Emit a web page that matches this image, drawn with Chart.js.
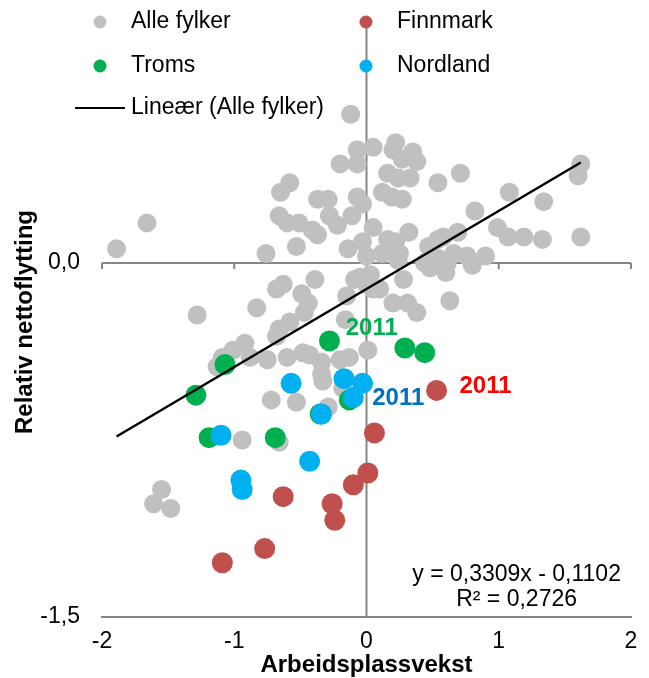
<!DOCTYPE html>
<html>
<head>
<meta charset="utf-8">
<script src="https://cdn.jsdelivr.net/npm/chart.js@4.4.0/dist/chart.umd.min.js"></script>
<style>
  body { margin: 0; background: #fff; }
  #wrap { width: 649px; height: 678px; }
</style>
</head>
<body>
<div id="wrap"><canvas id="myChart" width="649" height="678"></canvas></div>
<script>
// verdier lest av bildet: [arbeidsplassvekst, relativ nettoflytting]
const alleFylker = [
  [-1.89,0.06],[-1.66,0.17],[-1.28,-0.22],[-1.55,-0.96],[-1.61,-1.02],[-1.48,-1.04],
  [-0.12,0.63],[-0.07,0.48],[0.05,0.49],[-0.20,0.42],[-0.07,0.42],
  [-0.65,0.30],[-0.58,0.34],[-0.37,0.27],[-0.29,0.27],[-0.07,0.28],
  [-0.66,0.20],[-0.60,0.17],[-0.51,0.17],[-0.41,0.14],[-0.37,0.12],[-0.28,0.20],[-0.22,0.16],[-0.11,0.20],[-0.03,0.25],
  [-0.53,0.07],[-0.76,0.04],[-0.14,0.06],[-0.03,0.09],[0.00,0.03],
  [0.22,0.51],[0.20,0.48],[0.35,0.47],[0.27,0.44],[0.38,0.43],[0.16,0.38],[0.24,0.36],[0.33,0.36],[0.54,0.34],[0.71,0.38],
  [0.12,0.30],[0.19,0.28],[0.27,0.27],
  [0.05,0.15],[0.16,0.10],[0.22,0.09],[0.32,0.13],[0.12,0.04],[0.25,0.04],
  [0.47,0.07],[0.54,0.10],[0.58,0.11],[0.69,0.13],[0.82,0.22],[0.99,0.15],
  [0.54,0.02],[0.66,0.04],[0.76,0.03],[0.90,0.03],
  [1.62,0.42],[1.60,0.37],[1.08,0.30],[1.34,0.26],[1.07,0.11],[1.19,0.11],[1.33,0.10],[1.62,0.11],
  [0.80,-0.01],[0.24,0.01],[0.44,0.00],[0.48,-0.02],[0.61,0.00],[0.60,-0.04],
  [-0.05,-0.06],[-0.09,-0.07],[0.05,-0.11],[-0.15,-0.14],[0.28,-0.07],[0.20,-0.17],[0.31,-0.17],[0.38,-0.21],[0.63,-0.16],
  [-0.83,-0.19],[-0.68,-0.11],[-0.63,-0.09],[-0.39,-0.07],[-0.49,-0.13],[-0.44,-0.17],
  [-0.58,-0.25],[-0.66,-0.28],[-0.68,-0.31],[-0.92,-0.34],[-1.01,-0.37],[-1.09,-0.40],[-1.13,-0.44],
  [-0.88,-0.40],[-0.75,-0.41],[-0.60,-0.40],[-0.48,-0.38],[-0.43,-0.39],[-0.34,-0.42],[-0.34,-0.47],[-0.33,-0.50],
  [-0.20,-0.41],[-0.13,-0.40],[0.01,-0.37],[-0.18,-0.53],
  [-0.72,-0.58],[-0.53,-0.59],[-0.29,-0.61],[-0.94,-0.75],[-0.66,-0.76],
  [0.00,-0.09],[0.03,-0.05],[0.10,-0.11],[-0.16,-0.24],[-0.47,-0.21]
];
const finnmark = [
  [0.53,-0.54],[0.06,-0.72],[0.01,-0.89],[-0.10,-0.94],[-0.63,-0.99],
  [-0.26,-1.02],[-0.24,-1.09],[-0.77,-1.21],[-1.09,-1.27]
];
const troms = [
  [-0.28,-0.33],[-1.07,-0.43],[-1.29,-0.56],[-1.19,-0.74],[-0.69,-0.74],
  [-0.35,-0.64],[-0.13,-0.58],[0.29,-0.36],[0.44,-0.38]
];
const nordland = [
  [-0.57,-0.51],[-0.17,-0.49],[-0.03,-0.51],[-0.10,-0.57],[-0.34,-0.64],
  [-1.10,-0.73],[-0.43,-0.84],[-0.95,-0.92],[-0.94,-0.96]
];
const trend = [[-1.89,-0.735],[1.62,0.426]];
const xTicks = [-2, -1, 0, 1, 2];
const yTicks = [-1.5, 0];

const FONT = 'Liberation Sans, Arial, sans-serif';
const AXIS = '#868686';
Chart.defaults.font.family = FONT;
Chart.defaults.color = '#000';

function pts(arr) {
  return arr.map(p => ({x: p[0], y: p[1]}));
}

// "2011"-etiketter og trendlikning
const notes = [
  {text: '2011', x: 0.04, y: -0.275, color: '#00b050', bold: true},
  {text: '2011', x: 0.24, y: -0.572, color: '#0070c0', bold: true},
  {text: '2011', x: 0.90, y: -0.521, color: '#ff0000', bold: true},
  {text: 'y = 0,3309x - 0,1102', x: 1.135, y: -1.322, color: '#000', bold: false},
  {text: 'R² = 0,2726', x: 1.135, y: -1.428, color: '#000', bold: false}
];

const axesPlugin = {
  id: 'crossAxes',
  beforeDatasetsDraw(chart) {
    const {ctx, scales: {x, y}} = chart;
    const x0 = x.getPixelForValue(0);
    const y0 = y.getPixelForValue(0);
    ctx.save();
    ctx.strokeStyle = AXIS;
    ctx.lineWidth = 2;
    ctx.beginPath();
    ctx.moveTo(x0, chart.chartArea.top);
    ctx.lineTo(x0, chart.chartArea.bottom);
    ctx.moveTo(x.left, y0);
    ctx.lineTo(x.right, y0);
    xTicks.forEach(t => {
      const px = x.getPixelForValue(t);
      ctx.moveTo(px, y0);
      ctx.lineTo(px, y0 + 6);
    });
    ctx.stroke();
    ctx.restore();
  },
  afterDraw(chart) {
    const {ctx, scales: {x, y}} = chart;
    ctx.save();
    ctx.textAlign = 'center';
    ctx.textBaseline = 'middle';
    notes.forEach(n => {
      ctx.font = n.bold ? 'bold 24px ' + FONT : '23px ' + FONT;
      ctx.fillStyle = n.color;
      ctx.fillText(n.text, x.getPixelForValue(n.x), y.getPixelForValue(n.y));
    });

    // forklaring
    const ds = chart.data.datasets;
    const items = [
      {ds: ds[0], px: 100, py: 22},
      {ds: ds[1], px: 366, py: 22},
      {ds: ds[2], px: 100, py: 66},
      {ds: ds[3], px: 366, py: 66}
    ];
    ctx.font = '23px ' + FONT;
    ctx.textAlign = 'left';
    items.forEach(it => {
      ctx.fillStyle = it.ds.backgroundColor;
      ctx.beginPath();
      ctx.arc(it.px, it.py, 6.5, 0, Math.PI * 2);
      ctx.fill();
      ctx.fillStyle = '#000';
      ctx.fillText(it.ds.label, it.px + 31, it.py);
    });
    ctx.strokeStyle = '#000';
    ctx.lineWidth = 2;
    ctx.beginPath();
    ctx.moveTo(75, 108);
    ctx.lineTo(125, 108);
    ctx.stroke();
    ctx.fillText(ds[4].label, 131, 108);
    ctx.restore();
  }
};

new Chart(document.getElementById('myChart'), {
  type: 'scatter',
  data: {
    datasets: [
      {label: 'Alle fylker', data: pts(alleFylker), backgroundColor: '#c0c0c0', pointRadius: 9.5, pointHoverRadius: 9.5, borderWidth: 0, order: 5},
      {label: 'Finnmark', data: pts(finnmark), backgroundColor: '#c0504d', pointRadius: 10.5, pointHoverRadius: 10.5, borderWidth: 0, order: 4},
      {label: 'Troms', data: pts(troms), backgroundColor: '#00b050', pointRadius: 10.5, pointHoverRadius: 10.5, borderWidth: 0, order: 3},
      {label: 'Nordland', data: pts(nordland), backgroundColor: '#00b0f0', pointRadius: 10.5, pointHoverRadius: 10.5, borderWidth: 0, order: 2},
      {label: 'Lineær (Alle fylker)', type: 'line', data: pts(trend), showLine: true, borderColor: '#000', borderWidth: 2.5, pointRadius: 0, fill: false, order: 1}
    ]
  },
  options: {
    responsive: false,
    animation: false,
    layout: {padding: {top: 27, right: 18, left: 0, bottom: 0}},
    plugins: {legend: {display: false}, tooltip: {enabled: false}},
    scales: {
      x: {
        type: 'linear',
        position: 'bottom',
        min: -2,
        max: 2,
        afterBuildTicks: s => { s.ticks = xTicks.map(v => ({value: v})); },
        afterFit: s => { s.height = 61; },
        grid: {display: false, drawTicks: false},
        border: {display: true, color: AXIS, width: 2},
        ticks: {font: {size: 23}, color: '#000', padding: 11, callback: v => String(v)},
        title: {display: true, text: 'Arbeidsplassvekst', font: {size: 24, weight: 'bold', lineHeight: 1}, color: '#000', padding: {top: 0, bottom: 1}}
      },
      y: {
        type: 'linear',
        min: -1.5,
        max: 1.0,
        afterBuildTicks: s => { s.ticks = yTicks.map(v => ({value: v})); },
        afterFit: s => { s.width = 102; s.paddingTop = 0; s.paddingBottom = 0; },
        grid: {display: false, drawTicks: false},
        border: {display: false},
        ticks: {font: {size: 23}, color: '#000', padding: 22, callback: v => v.toFixed(1).replace('.', ',')},
        title: {display: true, text: 'Relativ nettoflytting', font: {size: 24, weight: 'bold', lineHeight: 1}, color: '#000', padding: {top: 13, bottom: 0}}
      }
    }
  },
  plugins: [axesPlugin]
});
</script>
</body>
</html>
